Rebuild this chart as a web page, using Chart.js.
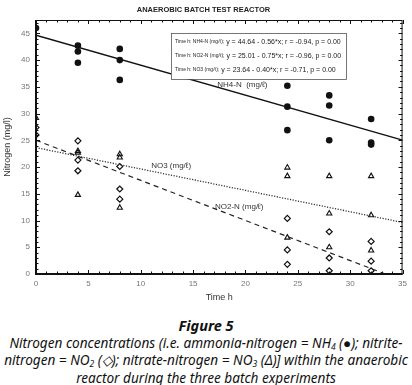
<!DOCTYPE html>
<html>
<head>
<meta charset="utf-8">
<script src="https://cdn.jsdelivr.net/npm/chart.js@4/dist/chart.umd.min.js"></script>
<style>
  html, body { margin: 0; padding: 0; background: #fff; }
  body { width: 412px; height: 385px; position: relative; overflow: hidden; }
  #wrap { position: absolute; left: 0; top: 0; width: 412px; height: 305px; }
  .cap { position: absolute; left: 0; width: 412px; text-align: center; font-family: "Noto Sans", sans-serif;
         font-style: italic; color: #111; white-space: nowrap; line-height: 17px; }
  .fig { top: 317px; font-size: 14.5px; font-weight: bold; }
  .l1 { top: 333.5px; font-size: 13.6px; }
  .l2 { top: 351px; font-size: 13.6px; }
  .l3 { top: 368.5px; font-size: 13.6px; }
  sub { font-size: 8.5px; line-height: 0; vertical-align: -2px; }
</style>
</head>
<body>
<div id="wrap"><canvas id="chart"></canvas></div>
<div class="cap fig">Figure 5</div>
<div class="cap l1">Nitrogen concentrations (i.e. ammonia-nitrogen = NH<sub>4</sub> (●); nitrite-</div>
<div class="cap l2">nitrogen = NO<sub>2</sub> (◇); nitrate-nitrogen = NO<sub>3</sub> (Δ)] within the anaerobic</div>
<div class="cap l3">reactor during the three batch experiments</div>
<script>
// measured values (three batch experiments per sampling time)
const nh4Time = [0, 4, 4, 4, 8, 8, 8, 24, 24, 24, 28, 28, 28, 32, 32, 32];
const nh4Val = [46.0, 42.7, 41.6, 39.5, 42.1, 40.0, 36.3, 35.2, 31.3, 26.9, 33.4, 31.5, 25.0, 29.0, 24.6, 24.2];

const no2Time = [0, 0, 4, 4, 4, 8, 8, 8, 24, 24, 24, 28, 28, 28, 32, 32, 32];
const no2Val = [26.0, 27.4, 24.9, 21.3, 19.3, 20.1, 15.9, 14.0, 10.4, 4.5, 1.8, 7.9, 3.0, 0.6, 6.1, 2.4, 0.6];

const no3Time = [0, 4, 4, 4, 8, 8, 8, 24, 24, 24, 28, 28, 28, 32, 32, 32];
const no3Val = [29.2, 23.0, 22.7, 14.8, 22.4, 21.8, 12.4, 19.9, 18.3, 6.8, 18.3, 11.3, 5.0, 18.3, 11.0, 4.4];

// regression line end points
const fitTime = [0, 35];
const nh4Fit = [44.64, 25.04];
const no3Fit = [23.64, 9.64];
const no2FitTime = [0, 33.35];
const no2Fit = [25.01, 0];

const xTicks = [0, 5, 10, 15, 20, 25, 30, 35];
const yTicks = [0, 5, 10, 15, 20, 25, 30, 35, 40, 45];

const fitLabels = [
  ["Time h: NH4-N (mg/ℓ);", " y = 44.64 - 0.56*x; r = -0.94, p = 0.00"],
  ["Time h: NO2-N (mg/ℓ);", " y = 25.01 - 0.75*x; r = -0.96, p = 0.00"],
  ["Time h: NO3 (mg/ℓ);", " y = 23.64 - 0.40*x; r = -0.71, p = 0.00"],
];

const pts = (xs, ys) => xs.map((x, i) => ({ x: x, y: ys[i] }));

// frame, inward ticks, legend box and in-plot labels
const decor = {
  id: "decor",
  afterDraw(chart) {
    const { ctx, chartArea: a, scales: { x, y } } = chart;
    ctx.save();
    ctx.strokeStyle = "#111";
    ctx.lineWidth = 1;
    for (let v = 0; v <= 35; v++) {
      const px = Math.round(x.getPixelForValue(v)) + 0.5;
      const len = v % 5 === 0 ? 4 : 2.5;
      ctx.beginPath();
      ctx.moveTo(px, a.bottom); ctx.lineTo(px, a.bottom - len);
      ctx.moveTo(px, a.top); ctx.lineTo(px, a.top + len);
      ctx.stroke();
    }
    for (let v = 0; v <= 47; v++) {
      const py = Math.round(y.getPixelForValue(v)) + 0.5;
      const len = v % 5 === 0 ? 4 : 2.5;
      ctx.beginPath();
      ctx.moveTo(a.left, py); ctx.lineTo(a.left + len, py);
      ctx.moveTo(a.right, py); ctx.lineTo(a.right - len, py);
      ctx.stroke();
    }
    ctx.lineWidth = 1;
    ctx.strokeRect(a.left + 0.5, a.top + 0.5, a.right - a.left - 1, a.bottom - a.top - 1);
    ctx.lineWidth = 2;
    ctx.beginPath();
    ctx.moveTo(a.left, a.top); ctx.lineTo(a.left, a.bottom); ctx.lineTo(a.right, a.bottom);
    ctx.stroke();

    // legend box with the fit equations
    const bx = 171, by = 33, bw = 175, bh = 46;
    ctx.fillStyle = "#fff";
    ctx.fillRect(bx, by, bw, bh);
    ctx.lineWidth = 0.8;
    ctx.strokeStyle = "#555";
    ctx.strokeRect(bx + 0.5, by + 0.5, bw, bh);
    ctx.fillStyle = "#222";
    ctx.textBaseline = "middle";
    ctx.textAlign = "left";
    fitLabels.forEach((parts, i) => {
      const ty = by + 9 + i * 14;
      ctx.font = "5px 'Liberation Sans'";
      ctx.fillText(parts[0], bx + 4, ty);
      const w = ctx.measureText(parts[0]).width;
      ctx.font = "7px 'Liberation Sans'";
      ctx.fillText(parts[1], bx + 4 + w, ty);
    });

    // labels next to the regression lines
    ctx.font = "8px 'Liberation Sans'";
    ctx.textAlign = "center";
    ctx.fillStyle = "#333";
    ctx.fillText("NH4-N  (mg/ℓ)", x.getPixelForValue(19.7), y.getPixelForValue(35.3));
    ctx.fillText("NO3 (mg/ℓ)", x.getPixelForValue(12.9), y.getPixelForValue(20.2));
    ctx.fillText("NO2-N (mg/ℓ)", x.getPixelForValue(19.4), y.getPixelForValue(12.5));
    ctx.restore();
  },
};

const ctx = document.getElementById("chart").getContext("2d");
new Chart(ctx, {
  type: "scatter",
  data: {
    datasets: [
      {
        label: "NH4-N fit",
        type: "line",
        data: pts(fitTime, nh4Fit),
        borderColor: "#111",
        borderWidth: 1.5,
        pointRadius: 0,
        clip: 0,
      },
      {
        label: "NO2-N fit",
        type: "line",
        data: pts(no2FitTime, no2Fit),
        borderColor: "#222",
        borderWidth: 1.2,
        borderDash: [5, 4],
        pointRadius: 0,
        clip: 0,
      },
      {
        label: "NO3 fit",
        type: "line",
        data: pts(fitTime, no3Fit),
        borderColor: "#333",
        borderWidth: 1.3,
        borderDash: [1.2, 1.5],
        pointRadius: 0,
        clip: 0,
      },
      {
        label: "NH4-N (mg/l)",
        data: pts(nh4Time, nh4Val),
        pointStyle: "circle",
        pointRadius: 3.3,
        backgroundColor: "#111",
        borderColor: "#111",
        borderWidth: 0,
        clip: 0,
      },
      {
        label: "NO2-N (mg/l)",
        data: pts(no2Time, no2Val),
        pointStyle: "rectRot",
        pointRadius: 3,
        backgroundColor: "#fff",
        borderColor: "#111",
        borderWidth: 1.2,
        clip: 0,
      },
      {
        label: "NO3 (mg/l)",
        data: pts(no3Time, no3Val),
        pointStyle: "triangle",
        pointRadius: 3,
        backgroundColor: "rgba(255,255,255,0)",
        borderColor: "#111",
        borderWidth: 1.1,
        clip: 0,
      },
    ],
  },
  options: {
    responsive: true,
    maintainAspectRatio: false,
    animation: false,
    layout: { padding: { left: 0, right: 5, top: 0, bottom: 0 } },
    plugins: {
      legend: { display: false },
      tooltip: { enabled: false },
      title: {
        display: true,
        text: "ANAEROBIC BATCH TEST REACTOR",
        color: "#222",
        font: { family: "'Liberation Sans'", size: 7.5, weight: "bold" },
        padding: { top: 5, bottom: 6 },
      },
    },
    scales: {
      x: {
        type: "linear",
        min: 0,
        max: 35,
        afterFit: (s) => { s.height = 31; },
        afterBuildTicks: (s) => { s.ticks = xTicks.map((v) => ({ value: v })); },
        grid: { display: false, drawTicks: false },
        border: { display: false },
        ticks: { color: "#777", padding: 5, font: { family: "'Liberation Sans'", size: 8 } },
        title: {
          display: true,
          text: "Time h",
          color: "#333",
          font: { family: "'Liberation Sans'", size: 9 },
          padding: { top: 0, bottom: 2 },
        },
      },
      y: {
        type: "linear",
        min: 0,
        max: 47.5,
        afterFit: (s) => { s.width = 36; },
        afterBuildTicks: (s) => { s.ticks = yTicks.map((v) => ({ value: v })); },
        grid: { display: false, drawTicks: false },
        border: { display: false },
        ticks: { color: "#777", padding: 6, font: { family: "'Liberation Sans'", size: 8 } },
        title: {
          display: true,
          text: "Nitrogen (mg/l)",
          color: "#333",
          font: { family: "'Liberation Sans'", size: 9 },
          padding: { top: 2, bottom: 0 },
        },
      },
    },
  },
  plugins: [decor],
});
</script>
</body>
</html>
